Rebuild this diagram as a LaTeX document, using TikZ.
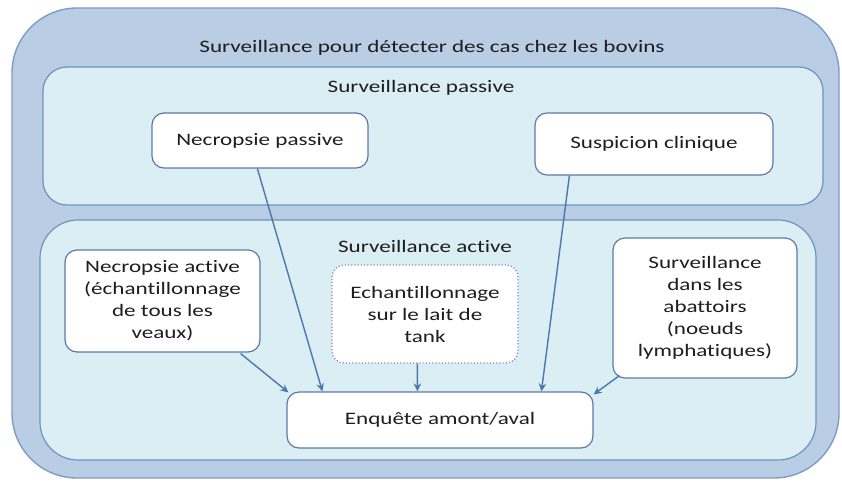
\documentclass[tikz,border=0pt]{standalone}
\usepackage{fontspec}
\setmainfont[FakeStretch=1.32, Ligatures=NoCommon]{Carlito}
\usetikzlibrary{arrows.meta}
\definecolor{outerfill}{HTML}{B9CDE5}
\definecolor{outerline}{HTML}{7E9CC6}
\definecolor{panelfill}{HTML}{DBEEF4}
\definecolor{panelline}{HTML}{6F92C0}
\definecolor{boxline}{HTML}{5A7BA6}
\definecolor{arrowcol}{HTML}{4A78B0}
\definecolor{txt}{HTML}{1E1E1E}
\tikzset{
  outerpanel/.style={draw=outerline, line width=1.4pt, fill=outerfill, rounded corners=65pt},
  panel/.style={draw=panelline, line width=1.2pt, fill=panelfill, rounded corners=24pt},
  itembox/.style={draw=boxline, line width=1.2pt, fill=white, rounded corners=12pt,
    align=center, text=txt, font=\fontsize{17.5}{22}\selectfont, inner sep=0pt},
  dottedbox/.style={itembox, draw=boxline!80, dotted, line width=1.3pt},
  heading/.style={text=txt, font=\fontsize{17.5}{22}\selectfont},
  link/.style={draw=arrowcol, line width=1.4pt, -{Stealth[length=8pt,width=7.5pt]}}
}
\begin{document}
\begin{tikzpicture}[x=1pt,y=-1pt]
\useasboundingbox (0,0) rectangle (842,482);
% nested panels
\draw[outerpanel] (12,8) rectangle (839,478);
\draw[panel] (43,67) rectangle (823,205);
\draw[panel, rounded corners=38pt] (40,220) rectangle (816,460);
\node[heading] (title) at (432,48) {Surveillance pour détecter des cas chez les bovins};
\node[heading] (passive) at (421,88) {Surveillance passive};
\node[heading] (active) at (425,246) {Surveillance active};
% passive sources
\node[itembox, minimum width=216pt, minimum height=55pt] (np) at (260,140.5) {Necropsie passive};
\node[itembox, minimum width=238pt, minimum height=62pt] (sc) at (654,144) {Suspicion clinique};
% active sources
\node[itembox, minimum width=195pt, minimum height=102pt] (na) at (162.5,301) {Necropsie active\\(échantillonnage\\de tous les\\veaux)};
\node[dottedbox, minimum width=186pt, minimum height=98pt] (ech) at (425,314) {Echantillonnage\\sur le lait de\\tank};
\node[itembox, minimum width=184pt, minimum height=140pt] (ab) at (705,308) {Surveillance\\dans les\\abattoirs\\(noeuds\\lymphatiques)};
% target
\node[itembox, minimum width=306pt, minimum height=56pt] (enq) at (440,420) {Enquête amont/aval};
% links
\draw[link] ([xshift=106pt]np.south west) -- ([xshift=36pt]enq.north west);
\draw[link] ([xshift=35pt]sc.south west) -- ([xshift=255pt]enq.north west);
\draw[link] ([xshift=86pt]ech.south west) -- ([xshift=131pt]enq.north west);
\draw[link] ([xshift=-20pt,yshift=-1pt]na.south east) -- ([xshift=2pt,yshift=-1pt]enq.north west);
\draw[link] ([xshift=7pt,yshift=3pt]ab.south west) -- ([yshift=-3pt]enq.north east);
\end{tikzpicture}
\end{document}
